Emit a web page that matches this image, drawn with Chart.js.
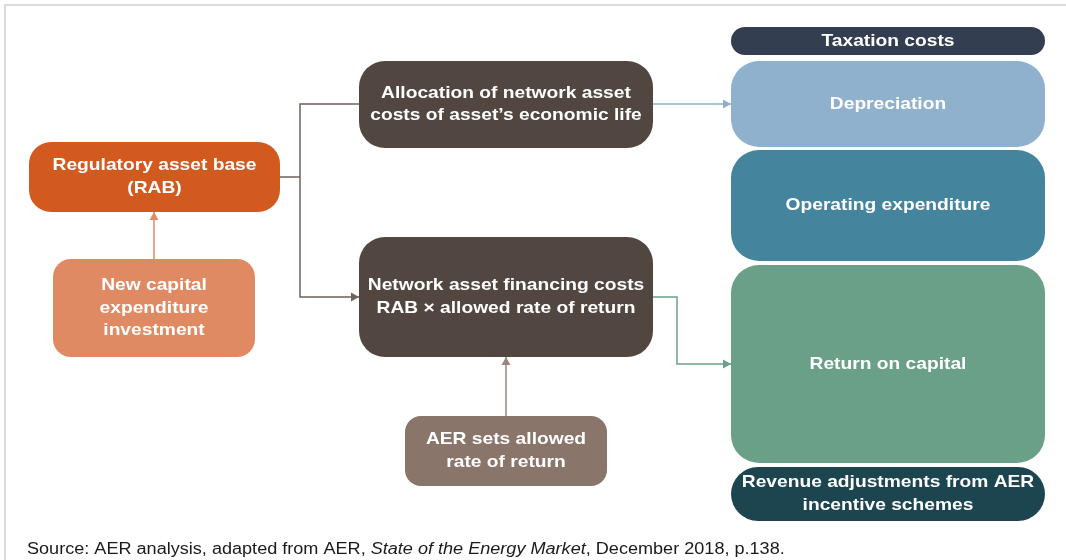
<!DOCTYPE html>
<html>
<head>
<meta charset="utf-8">
<script src="https://cdn.jsdelivr.net/npm/chart.js@4"></script>
<style>
  body { margin: 0; background: #fff; }
  #wrap { width: 1066px; height: 560px; position: relative; }
</style>
</head>
<body>
<div id="wrap"><canvas id="flow"></canvas></div>
<script>
// boxes of the diagram, in page units (x 0..1066, y 0..560 from the top)
const nodeLabels = [
  ["Taxation costs"],
  ["Depreciation"],
  ["Operating expenditure"],
  ["Return on capital"],
  ["Revenue adjustments from AER", "incentive schemes"],
  ["Regulatory asset base", "(RAB)"],
  ["New capital", "expenditure", "investment"],
  ["Allocation of network asset", "costs of asset\u2019s economic life"],
  ["Network asset financing costs", "RAB \u00d7 allowed rate of return"],
  ["AER sets allowed", "rate of return"]
];
const nodeLeft   = [731, 731, 731, 731, 731, 29, 53, 359, 359, 405];
const nodeRight  = [1045, 1045, 1045, 1045, 1045, 280, 255, 653, 653, 607];
const nodeTop    = [27, 61, 150, 265, 467, 142, 259, 61, 237, 416];
const nodeBottom = [55, 147, 261, 463, 521, 212, 357, 148, 357, 486];

// connectors: lists of [x, y] points, last point gets an arrow when flagged
const linkPaths = [
  [[280, 177], [300, 177]],
  [[359, 104], [300, 104], [300, 297], [359, 297]],
  [[653, 104], [731, 104]],
  [[653, 297], [677, 297], [677, 364], [731, 364]],
  [[506, 416], [506, 357]],
  [[154, 259], [154, 212]]
];
const linkArrow = [false, true, true, true, true, true];

const sourceParts = [
  ["Source: AER analysis, adapted from AER, ", false],
  ["State of the Energy Market", true],
  [", December 2018, p.138.", false]
];

// styles
const nodeColors = ["#333f50", "#8fb1cd", "#44849c", "#6aa087", "#1d4550",
                    "#d35a1e", "#e08a63", "#524640", "#524640", "#8a756a"];
const nodeRadius = [14, 28, 28, 28, 27, 22, 18, 26, 26, 16];
const linkColors = ["#6e625c", "#6e625c", "#8fb1cd", "#6aa087", "#9a877c", "#e08a63"];
const FONT = "'Liberation Sans', Arial, sans-serif";
const STRETCH = 1.13;   // the reference text is set a little wide

function wideText(c, text, x, y, align)
{
  let w = c.measureText(text).width * STRETCH;
  let x0 = align == "center" ? x - w / 2 : x;
  c.save();
  c.translate(x0, y);
  c.scale(STRETCH, 1);
  c.textAlign = "left";
  c.fillText(text, 0, 0);
  c.restore();
  return w;
}

let datasets = [];
for (let i = 0; i < linkPaths.length; i++)
{
  datasets.push({
    data: linkPaths[i].map(p => ({x: p[0], y: p[1]})),
    showLine: true,
    borderColor: linkColors[i],
    borderWidth: 1.5,
    pointRadius: 0,
    fill: false,
    tension: 0
  });
}

const boxPlugin = {
  id: "boxes",
  beforeDraw(chart) {
    let c = chart.ctx, xs = chart.scales.x, ys = chart.scales.y;
    c.save();
    c.fillStyle = "#fff";
    c.fillRect(0, 0, chart.width, chart.height);
    // outer frame
    c.strokeStyle = "#cfcfcf";
    c.lineWidth = 1.5;
    c.beginPath();
    c.moveTo(xs.getPixelForValue(5), ys.getPixelForValue(560));
    c.lineTo(xs.getPixelForValue(5), ys.getPixelForValue(5));
    c.lineTo(xs.getPixelForValue(1066), ys.getPixelForValue(5));
    c.stroke();
    c.restore();
  },
  afterDatasetsDraw(chart) {
    let c = chart.ctx, xs = chart.scales.x, ys = chart.scales.y;
    c.save();
    // arrow heads
    for (let i = 0; i < linkPaths.length; i++)
    {
      if (!linkArrow[i]) continue;
      let p = linkPaths[i];
      let a = p[p.length - 2], b = p[p.length - 1];
      let x1 = xs.getPixelForValue(a[0]), y1 = ys.getPixelForValue(a[1]);
      let x2 = xs.getPixelForValue(b[0]), y2 = ys.getPixelForValue(b[1]);
      let ang = Math.atan2(y2 - y1, x2 - x1);
      c.fillStyle = linkColors[i];
      c.beginPath();
      c.moveTo(x2, y2);
      c.lineTo(x2 - 8 * Math.cos(ang) + 4.5 * Math.sin(ang), y2 - 8 * Math.sin(ang) - 4.5 * Math.cos(ang));
      c.lineTo(x2 - 8 * Math.cos(ang) - 4.5 * Math.sin(ang), y2 - 8 * Math.sin(ang) + 4.5 * Math.cos(ang));
      c.closePath();
      c.fill();
    }
    // boxes and their labels
    for (let i = 0; i < nodeLabels.length; i++)
    {
      let l = xs.getPixelForValue(nodeLeft[i]), r = xs.getPixelForValue(nodeRight[i]);
      let t = ys.getPixelForValue(nodeTop[i]), b = ys.getPixelForValue(nodeBottom[i]);
      c.fillStyle = nodeColors[i];
      c.beginPath();
      c.roundRect(l, t, r - l, b - t, Math.min(nodeRadius[i], (b - t) / 2));
      c.fill();
      c.fillStyle = "#fff";
      c.font = "bold 17px " + FONT;
      c.textBaseline = "middle";
      let lh = 22.5;
      let n = nodeLabels[i].length;
      for (let k = 0; k < n; k++)
      {
        wideText(c, nodeLabels[i][k], (l + r) / 2, (t + b) / 2 + (k - (n - 1) / 2) * lh, "center");
      }
    }
    // source line
    c.fillStyle = "#1a1a1a";
    c.textBaseline = "alphabetic";
    let x = xs.getPixelForValue(27), y = ys.getPixelForValue(554);
    for (let part of sourceParts)
    {
      c.font = (part[1] ? "italic " : "") + "16px " + FONT;
      x += wideText(c, part[0], x, y, "left");
    }
    c.restore();
  }
};

new Chart(document.getElementById("flow").getContext("2d"), {
  type: "scatter",
  data: { datasets: datasets },
  options: {
    responsive: true,
    maintainAspectRatio: false,
    animation: false,
    layout: { padding: 0 },
    plugins: { legend: { display: false }, tooltip: { enabled: false } },
    scales: {
      x: { type: "linear", min: 0, max: 1066, display: false },
      y: { type: "linear", min: 0, max: 560, reverse: true, display: false }
    }
  },
  plugins: [boxPlugin]
});
</script>
</body>
</html>
